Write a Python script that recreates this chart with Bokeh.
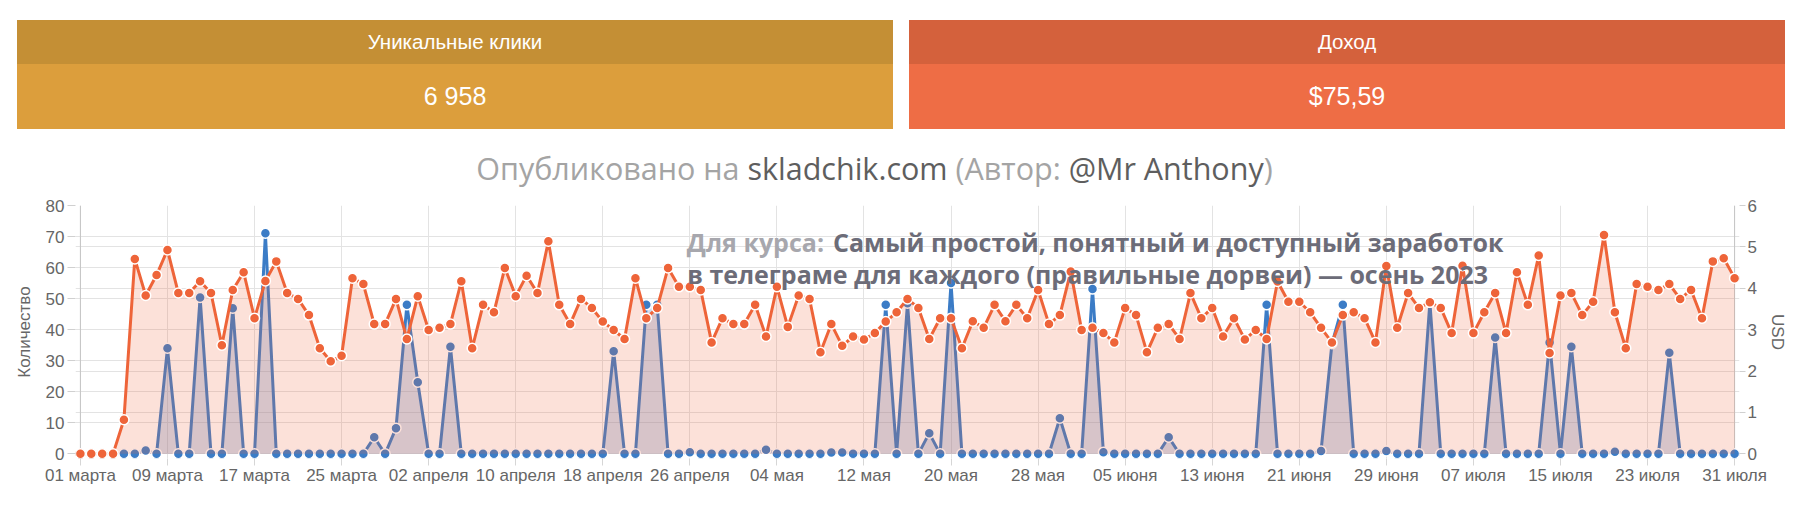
from bokeh.plotting import figure
from bokeh.models import Range1d, LinearAxis, FixedTicker, Grid, Label, Span, Div, ColumnDataSource
from bokeh.layouts import column
from bokeh.embed import file_html
from bokeh.resources import INLINE

# ---------------- data ----------------
clicks = [
    0, 0, 0, 0, 11, 62.8, 51, 57.6, 65.7, 51.8,
    51.8, 55.6, 51.8, 35, 52.8, 58.5, 43.7, 55.7, 62, 51.8,
    49.9, 44.7, 34, 29.8, 31.6, 56.6, 54.7, 41.8, 41.8, 49.9,
    37, 50.8, 39.9, 40.6, 41.8, 55.6, 34, 48, 45.6, 59.9,
    50.8, 57.4, 51.8, 68.5, 48, 41.8, 49.9, 47, 42.6, 39.9,
    37, 56.6, 43.7, 47, 59.9, 53.8, 53.8, 52.8, 35.9, 43.7,
    41.8, 41.8, 48, 37.8, 53.8, 40.9, 51, 49.9, 32.7, 41.8,
    34.8, 37.8, 36.8, 38.9, 42.6, 45.6, 49.9, 47, 37, 43.7,
    43.7, 34, 42.7, 40.6, 48, 42.7, 48, 43.7, 52.8, 41.8,
    44.7, 58.7, 39.9, 40.6, 38.9, 35.9, 47, 44.7, 32.7, 40.6,
    41.8, 37, 51.8, 43.7, 47, 37.8, 43.7, 36.8, 39.9, 37,
    55.5, 49, 49, 45.6, 40.6, 35.9, 44.7, 45.6, 43.7, 35.9,
    60.5, 40.6, 51.8, 47, 48.8, 47, 38.9, 60.6, 38.9, 45.6,
    51.8, 38.9, 58.5, 48, 63.9, 32.5, 51, 51.8, 44.7, 49,
    70.5, 45.6, 34, 54.7, 53.8, 52.8, 54.7, 49.9, 52.8, 43.7,
    62, 63, 56.6,
]

income_usd = [
    0, 0, 0, 0, 0, 0, 0.08, 0, 2.55, 0,
    0, 3.78, 0, 0, 3.52, 0, 0, 5.33, 0, 0,
    0, 0, 0, 0, 0, 0, 0, 0.40, 0, 0.62,
    3.60, 1.73, 0, 0, 2.59, 0, 0, 0, 0, 0,
    0, 0, 0, 0, 0, 0, 0, 0, 0, 2.48,
    0, 0, 3.60, 3.60, 0, 0, 0.04, 0, 0, 0,
    0, 0, 0, 0.10, 0, 0, 0, 0, 0, 0.03,
    0.03, 0, 0, 0, 3.60, 0, 3.64, 0, 0.50, 0,
    4.13, 0, 0, 0, 0, 0, 0, 0, 0, 0,
    0.86, 0, 0, 3.98, 0.04, 0, 0, 0, 0, 0,
    0.40, 0, 0, 0, 0, 0, 0, 0, 0, 3.60,
    0, 0, 0, 0, 0.07, 2.66, 3.60, 0, 0, 0,
    0.07, 0, 0, 0, 3.66, 0, 0, 0, 0, 0,
    2.81, 0, 0, 0, 0, 2.69, 0, 2.59, 0, 0,
    0, 0.05, 0, 0, 0, 0, 2.44, 0, 0, 0,
    0, 0, 0,
]

tick_labels = ["01 марта", "09 марта", "17 марта", "25 марта", "02 апреля",
               "10 апреля", "18 апреля", "26 апреля", "04 мая", "12 мая",
               "20 мая", "28 мая", "05 июня", "13 июня", "21 июня",
               "29 июня", "07 июля", "15 июля", "23 июля", "31 июля"]
tick_days = list(range(0, 8 * len(tick_labels), 8))

left_ticks = [0, 10, 20, 30, 40, 50, 60, 70, 80]
right_ticks = [0, 1, 2, 3, 4, 5, 6]

card_titles = ["Уникальные клики", "Доход"]
card_values = ["6 958", "$75,59"]

days = list(range(len(clicks)))
src = ColumnDataSource(dict(day=days, clicks=clicks, usd=income_usd))

# ---------------- header (cards + title) ----------------
W = 1789
HA = 190

def card(left, head_col, val_col, title, val):
    return (
        f'<div style="position:absolute;left:{left}px;top:20px;width:876px;height:44px;'
        f'background:{head_col};color:#fff;font-family:\'Liberation Sans\',Arial,sans-serif;'
        f'font-size:20.5px;line-height:44px;text-align:center;">{title}</div>'
        f'<div style="position:absolute;left:{left}px;top:64px;width:876px;height:65px;'
        f'background:{val_col};color:#fff;font-family:\'Liberation Sans\',Arial,sans-serif;'
        f'font-size:25px;line-height:65px;text-align:center;">{val}</div>'
    )

light = "#a4a4a4"
dark = "#5e5e5e"
title_html = (
    '<div style="position:absolute;left:0px;top:146.5px;width:1749px;text-align:center;'
    'white-space:nowrap;font-family:\'Open Sans\',sans-serif;font-size:30.5px;line-height:normal;'
    f'color:{light};">Опубликовано на <span style="color:{dark}">skladchik.com</span> '
    f'(Автор: <span style="color:{dark}">@Mr Anthony</span>)</div>'
)

html = (
    f'<div style="position:relative;width:{W}px;height:{HA}px;overflow:visible;">'
    + card(17, "#c48f35", "#dc9e3c", card_titles[0], card_values[0])
    + card(909, "#d4613c", "#ee6d45", card_titles[1], card_values[1])
    + title_html
    + '</div>'
)
header = Div(text=html, width=W, height=HA, margin=(0, 0, 0, 0))

# ---------------- chart ----------------
p = figure(width=W, height=310, x_range=Range1d(-0.45, 152.45), y_range=Range1d(-1.5, 80),
           output_backend="svg", toolbar_location=None,
           min_border_left=75, min_border_right=49, min_border_top=15, min_border_bottom=42)
p.outline_line_color = None
p.extra_y_ranges = {"usd": Range1d(-1.5 * 6 / 80, 6)}

xt = FixedTicker(ticks=tick_days)
lt = FixedTicker(ticks=left_ticks)
rt = FixedTicker(ticks=right_ticks)

grid_col = "#e3e3e3"
p.xgrid.ticker = xt
p.xgrid.grid_line_color = grid_col
p.ygrid.ticker = lt
p.ygrid.grid_line_color = grid_col
p.add_layout(Grid(dimension=1, ticker=rt, y_range_name="usd", grid_line_color=grid_col))

# axis lines at first / last day
for loc in (tick_days[0], tick_days[-1]):
    p.add_layout(Span(location=loc, dimension="height", line_color="#c4c4c4",
                      line_width=1, level="underlay"))

lab_font = "Liberation Sans"
lab_col = "#666666"

xa = p.xaxis[0]
xa.ticker = xt
xa.major_label_overrides = {d: s for d, s in zip(tick_days, tick_labels)}
xa.axis_line_color = None
xa.major_tick_line_color = "#d6d6d6"
xa.major_tick_out = 7
xa.major_tick_in = 0
xa.minor_tick_line_color = None
xa.major_label_standoff = 0
xa.major_label_text_font = lab_font
xa.major_label_text_font_size = "17px"
xa.major_label_text_color = lab_col

ya = p.yaxis[0]
ya.ticker = lt
ya.axis_line_color = None
ya.major_tick_line_color = "#d0d0d0"
ya.major_tick_out = 8
ya.major_tick_in = 0
ya.minor_tick_line_color = None
ya.major_label_standoff = 3
ya.major_label_text_font = lab_font
ya.major_label_text_font_size = "17px"
ya.major_label_text_color = lab_col
ya.axis_label = "Количество"
ya.axis_label_text_font = lab_font
ya.axis_label_text_font_size = "17px"
ya.axis_label_text_font_style = "normal"
ya.axis_label_text_color = lab_col
ya.axis_label_standoff = 9

ra = LinearAxis(y_range_name="usd", ticker=rt,
                axis_line_color=None, major_tick_line_color="#d0d0d0",
                major_tick_out=6, major_tick_in=0, minor_tick_line_color=None,
                major_label_standoff=2, major_label_text_font=lab_font,
                major_label_text_font_size="17px", major_label_text_color=lab_col,
                axis_label="USD", axis_label_text_font=lab_font,
                axis_label_text_font_size="17px", axis_label_text_font_style="normal",
                axis_label_text_color=lab_col, axis_label_standoff=8)
p.add_layout(ra, "right")

blue = "#3b7cc6"
orange = "#ee6439"

p.varea(x="day", y1=0, y2="usd", source=src, y_range_name="usd",
        fill_color="#5a7db9", fill_alpha=0.28)
p.line(x="day", y="usd", source=src, y_range_name="usd", line_color=blue, line_width=3)
p.scatter(x="day", y="usd", source=src, y_range_name="usd", marker="circle", size=10,
          fill_color=blue, line_color="white", line_width=1.5)

p.varea(x="day", y1=0, y2="clicks", source=src, fill_color="#f06a3f", fill_alpha=0.2)
p.line(x="day", y="clicks", source=src, line_color=orange, line_width=3)
p.scatter(x="day", y="clicks", source=src, marker="circle", size=10,
          fill_color=orange, line_color="white", line_width=1.5)

# overlay caption (page pixel positions converted to data units)
x_px = lambda px: (px - 79.9) / 10.889
y_px = lambda py: (453.3 - py) / 3.104
cap_light = "#a7a7ad"
cap_dark = "#6c6c78"
cap_size = "25px"
p.add_layout(Label(x=x_px(686.7), y=y_px(241.7), text="Для курса:", text_baseline="alphabetic",
                   text_color=cap_light, text_font="Open Sans", text_font_style="bold",
                   text_font_size=cap_size))
p.add_layout(Label(x=x_px(833), y=y_px(241.7),
                   text="Самый простой, понятный и доступный заработок",
                   text_baseline="alphabetic", text_color=cap_dark, text_font="Open Sans",
                   text_font_style="bold", text_font_size=cap_size))
p.add_layout(Label(x=x_px(687), y=y_px(273.3),
                   text="в телеграме для каждого (правильные дорвеи) — осень 2023",
                   text_baseline="alphabetic", text_color=cap_dark, text_font="Open Sans",
                   text_font_style="bold", text_font_size=cap_size))

layout = column(header, p, spacing=0)
open("out.html", "w").write(file_html(layout, INLINE))
